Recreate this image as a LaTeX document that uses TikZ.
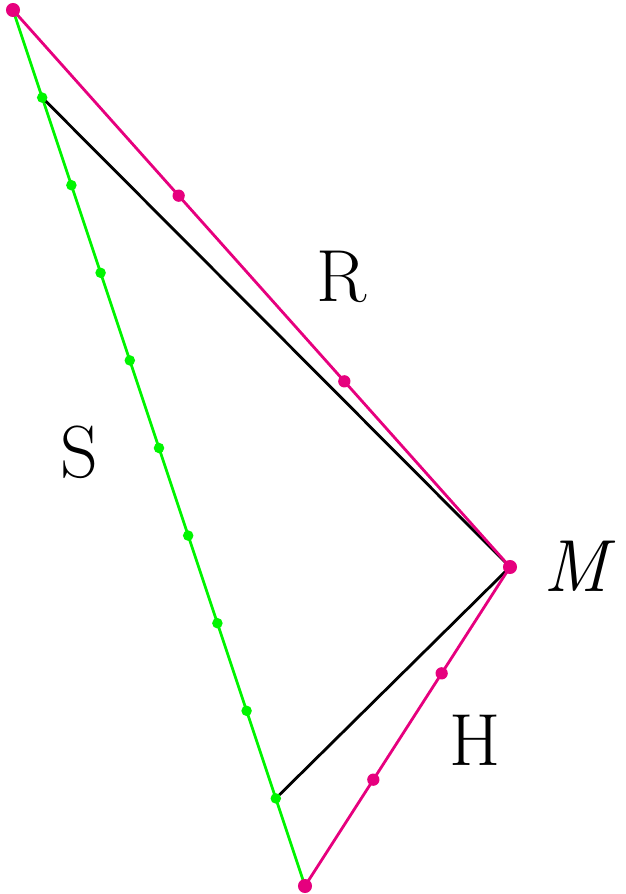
\documentclass[tikz,border=0pt]{standalone}
\usetikzlibrary{calc}
\definecolor{rmag}{RGB}{230,0,126}
\definecolor{sgreen}{RGB}{0,245,0}
\tikzset{
  side/.style={line width=1.6pt},
  dot/.style={circle,fill,inner sep=0pt,minimum size=#1},
  lbl/.style={font=\fontsize{42}{50}\selectfont}
}
\begin{document}
\begin{tikzpicture}[x=0.02cm,y=-0.02cm]
\useasboundingbox (0,0) rectangle (626,894);
% the three corners
\coordinate (A) at (13,10);
\coordinate (B) at (305,886);
\coordinate (M) at (510,567);
% side S, cut in ten
\draw[side,sgreen] (A) -- (B);
\foreach \k in {1,...,9}{\coordinate (s\k) at ($(A)!\k/10!(B)$);}
% the two black lines from the first and last cut
\draw[side,black] (s1) -- (M) -- (s9);
% sides R and H, cut in three
\draw[side,rmag] (A) -- (M) -- (B);
\foreach \k in {1,...,9}{\node[dot=6pt,sgreen] at (s\k) {};}
\foreach \k in {1,2}{%
  \node[dot=7pt,rmag] at ($(A)!\k/3!(M)$) {};
  \node[dot=7pt,rmag] at ($(M)!\k/3!(B)$) {};
}
\foreach \p in {A,B,M}{\node[dot=8pt,rmag] at (\p) {};}
% labels
\node[lbl] (lR) at (342,277) {R};
\node[lbl] (lS) at (79,452) {S};
\node[lbl] (lM) at (580,566) {\textit{M}};
\node[lbl] (lH) at (475,740) {H};
\end{tikzpicture}
\end{document}
